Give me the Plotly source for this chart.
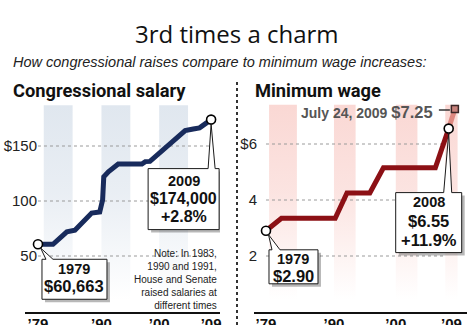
import plotly.graph_objects as go

W, H = 474, 325

# ---- data -------------------------------------------------------------
# Congressional salary (dollars), breakpoints of the plotted line
SAL_YEARS = [1979.0, 1981.6, 1984.0, 1985.4, 1988.3, 1989.7, 1990.2, 1990.4,
             1991.2, 1992.9, 1997.0, 1997.6, 1998.4, 2004.5, 2005.9, 2007.0, 2009.0]
SAL_VALUES = [60663, 60663, 72000, 73500, 89000, 90000, 101000, 122000,
              126600, 133600, 133600, 135800, 136000, 164000, 165500, 166500, 174000]
SAL_CHANGE = "+2.8%"

# Federal minimum wage (dollars per hour)
MW_YEARS = [1979.0, 1981.5, 1990.2, 1992.1, 1995.8, 1998.0, 2006.4, 2008.56]
MW_VALUES = [2.90, 3.35, 3.35, 4.25, 4.25, 5.15, 5.15, 6.55]
MW_CHANGE = "+11.9%"
MW_NEXT_YEAR = 2009 + 204 / 365      # July 24, 2009
MW_NEXT_VALUE = 7.25

X_TICKS = [1979, 1990, 2000, 2009]
X_TICKTEXT = ["\u201979", "\u201990", "\u201900", "\u201909"]
SAL_TICKS = [50000, 100000, 150000]
SAL_TICKTEXT = ["50", "100", "$150"]
MW_TICKS = [2, 4, 6]
MW_TICKTEXT = ["2", "4", "$6"]

SAL_STRIPES = [(1980, 1985), (1990, 1995), (2000, 2005)]
MW_STRIPES = [(1979.5, 1984), (1990, 1993.5), (2000, 2003.5), (2008, 2010)]

NOTE_LINES = ["Note: In 1983,", "1990 and 1991,", "House and Senate",
              "raised salaries at", "different times"]

# ---- styling ----------------------------------------------------------
NAVY = "#182b5c"
MAROON = "#8c1015"
SANS = "Liberation Sans, Arial, sans-serif"
HEAD = "Roboto, Liberation Sans, sans-serif"


def py(p):
    """pixel row -> paper y"""
    return 1 - p / H


fig = go.Figure()

# faded background columns
def add_stripes(stripes, y_lo, y_hi, rgb, xa, ya):
    for x0, x1 in stripes:
        fig.add_trace(go.Scatter(
            x=[x0, x1, x1, x0, x0], y=[y_lo, y_lo, y_hi, y_hi, y_lo],
            xaxis=xa, yaxis=ya, mode="none", fill="toself",
            fillgradient=dict(type="vertical",
                              colorscale=[[0, f"rgba({rgb},0)"], [0.55, f"rgba({rgb},0.7)"],
                                          [1, f"rgba({rgb},1)"]]),
            hoverinfo="skip", showlegend=False))


add_stripes(SAL_STRIPES, 10000, 187000, "224,231,239", "x", "y")
add_stripes(MW_STRIPES, 0.45, 7.4, "250,216,212", "x2", "y2")

# dotted gridlines
for v in SAL_TICKS:
    fig.add_trace(go.Scatter(x=[1979, 2009], y=[v, v], xaxis="x", yaxis="y", mode="lines",
                             line=dict(color="#9a9a9a", width=1, dash="dot"),
                             hoverinfo="skip", showlegend=False))
for v in MW_TICKS:
    fig.add_trace(go.Scatter(x=[1979, 2008], y=[v, v], xaxis="x2", yaxis="y2", mode="lines",
                             line=dict(color="#9a9a9a", width=1, dash="dot"),
                             hoverinfo="skip", showlegend=False))

# salary line
fig.add_trace(go.Scatter(x=SAL_YEARS, y=SAL_VALUES, xaxis="x", yaxis="y", mode="lines",
                         line=dict(color=NAVY, width=5), hoverinfo="skip", showlegend=False))
# minimum wage: pending 2009 increase, then the line itself
fig.add_trace(go.Scatter(x=[MW_YEARS[-1], MW_NEXT_YEAR], y=[MW_VALUES[-1], MW_NEXT_VALUE],
                         xaxis="x2", yaxis="y2", mode="lines",
                         line=dict(color="rgba(214,110,100,0.75)", width=5),
                         hoverinfo="skip", showlegend=False))
fig.add_trace(go.Scatter(x=MW_YEARS, y=MW_VALUES, xaxis="x2", yaxis="y2", mode="lines",
                         line=dict(color=MAROON, width=5), hoverinfo="skip", showlegend=False))
fig.add_trace(go.Scatter(x=[MW_NEXT_YEAR], y=[MW_NEXT_VALUE], xaxis="x2", yaxis="y2",
                         mode="markers",
                         marker=dict(symbol="square", size=7, color="#c8827c",
                                     line=dict(color="#3a2626", width=1.5)),
                         hoverinfo="skip", showlegend=False))

# endpoint circles
ring = dict(symbol="circle", size=9, color="white", line=dict(color="black", width=1.6))
fig.add_trace(go.Scatter(x=[SAL_YEARS[0], SAL_YEARS[-1]], y=[SAL_VALUES[0], SAL_VALUES[-1]],
                         xaxis="x", yaxis="y", mode="markers", marker=ring,
                         hoverinfo="skip", showlegend=False))
fig.add_trace(go.Scatter(x=[MW_YEARS[0], MW_YEARS[-1]], y=[MW_VALUES[0], MW_VALUES[-1]],
                         xaxis="x2", yaxis="y2", mode="markers", marker=ring,
                         hoverinfo="skip", showlegend=False))

shapes = []
annotations = []


def callout(xref, yref, x, y, box, wedge, apex, lines):
    """Speech-bubble box (pixel offsets from the data point) with text lines."""
    l, r, t, b = box
    wl, wr = wedge
    ax, ay = apex
    shapes.append(dict(type="path", xref=xref, yref=yref, xsizemode="pixel",
                       ysizemode="pixel", xanchor=x, yanchor=y,
                       path=f"M{l+3},{t-3} L{r+3},{t-3} L{r+3},{b-3} L{l+3},{b-3} Z",
                       fillcolor="rgba(0,0,0,0.28)", line=dict(width=0), layer="above"))
    shapes.append(dict(type="path", xref=xref, yref=yref, xsizemode="pixel",
                       ysizemode="pixel", xanchor=x, yanchor=y,
                       path=(f"M{l},{t} L{wl},{t} L{ax},{ay} L{wr},{t} L{r},{t} "
                             f"L{r},{b} L{l},{b} Z"),
                       fillcolor="white", line=dict(color="#1a1a1a", width=1), layer="above"))
    cx = (l + r) / 2
    for text, dy, size in lines:
        annotations.append(dict(xref=xref, yref=yref, x=x, y=y, xshift=cx, yshift=dy,
                                text=text, showarrow=False, xanchor="center",
                                yanchor="middle",
                                font=dict(family=SANS, size=size, color="#111", weight="bold")))


callout("x", "y", SAL_YEARS[0], SAL_VALUES[0], (4, 69, -15, -55), (8, 15), (2.6, -3.7),
        [(f"{int(SAL_YEARS[0])}", -25, 14.5), (f"${SAL_VALUES[0]:,}", -42, 16.5)])
callout("x", "y", SAL_YEARS[-1], SAL_VALUES[-1], (-63, 8, -49, -110), (-3, 4), (0, -4.5),
        [(f"{int(SAL_YEARS[-1])}", -61, 14.5), (f"${SAL_VALUES[-1]:,}", -78.5, 16),
         (SAL_CHANGE, -97, 16)])
callout("x2", "y2", MW_YEARS[0], MW_VALUES[0], (3, 52, -19, -53), (6, 14), (2.5, -3.8),
        [(f"{int(MW_YEARS[0])}", -28.3, 14.5), (f"${MW_VALUES[0]:.2f}", -45, 16.5)])
callout("x2", "y2", MW_YEARS[-1], MW_VALUES[-1], (-53, 13, -64, -124), (-5, 3), (0, -4.5),
        [(f"{int(MW_YEARS[-1])}", -73.7, 14.5), (f"${MW_VALUES[-1]:.2f}", -92, 16.5),
         (MW_CHANGE, -111.4, 16.5)])

# leader from the 2009 label to its marker
shapes.append(dict(type="path", xref="x2", yref="y2", xsizemode="pixel", ysizemode="pixel",
                   xanchor=MW_NEXT_YEAR, yanchor=MW_NEXT_VALUE, path="M-16,-1 L-5,-1",
                   line=dict(color="#333", width=1.5), layer="above"))
annotations.append(dict(xref="x2", yref="y2", x=MW_NEXT_YEAR, y=MW_NEXT_VALUE,
                        xshift=-20, yshift=-3, xanchor="right", yanchor="middle",
                        showarrow=False,
                        text=("July 24, 2009 "
                              f"<span style='font-size:16.5px'>${MW_NEXT_VALUE:.2f}</span>"),
                        font=dict(family=SANS, size=14, color="#555", weight="bold")))

# panel divider
shapes.append(dict(type="line", xref="paper", yref="paper", x0=237 / W, x1=237 / W,
                   y0=py(82), y1=0, line=dict(color="#333", width=2, dash="dot")))

# headings
annotations += [
    dict(xref="paper", yref="paper", x=0.5, y=py(33), text="3rd times a charm",
         showarrow=False, xanchor="center", yanchor="middle",
         font=dict(family="Open Sans, sans-serif", size=24, color="#111")),
    dict(xref="paper", yref="paper", x=11 / W, y=py(62),
         text="<i>How congressional raises compare to minimum wage increases:</i>",
         showarrow=False, xanchor="left", yanchor="middle",
         font=dict(family=SANS, size=14.5, color="#222")),
    dict(xref="paper", yref="paper", x=11 / W, y=py(90), text="Congressional salary",
         showarrow=False, xanchor="left", yanchor="middle",
         font=dict(family=HEAD, size=18.3, color="#111", weight="bold")),
    dict(xref="paper", yref="paper", x=253 / W, y=py(90), text="Minimum wage",
         showarrow=False, xanchor="left", yanchor="middle",
         font=dict(family=HEAD, size=18.3, color="#111", weight="bold")),
    dict(xref="paper", yref="paper", x=219 / W, y=py(279),
         text="<br>".join(NOTE_LINES), align="right",
         showarrow=False, xanchor="right", yanchor="middle",
         font=dict(family=SANS, size=10, color="#222")),
]

x_common = dict(showgrid=False, zeroline=False, showline=True, linecolor="#111",
                linewidth=2, ticks="", tickvals=X_TICKS, ticktext=X_TICKTEXT,
                tickfont=dict(family=SANS, size=15, color="#111", weight="bold"),
                ticklabelstandoff=-3, fixedrange=True, automargin=False)
y_common = dict(showgrid=False, zeroline=False, showline=False, ticks="",
                tickfont=dict(family=SANS, size=15, color="#222"), fixedrange=True,
                domain=[13 / H, 225 / H], anchor="free", automargin=False)

fig.update_layout(
    width=W, height=H, margin=dict(l=0, r=0, t=0, b=0, autoexpand=False),
    paper_bgcolor="white", plot_bgcolor="rgba(0,0,0,0)", showlegend=False,
    xaxis=dict(domain=[25 / W, 220 / W], range=[1976.75, 2010.54], anchor="y", **x_common),
    xaxis2=dict(domain=[254 / W, 467 / W], range=[1977.06, 2011.52], anchor="y2", **x_common),
    yaxis=dict(range=[-909, 191818], tickvals=SAL_TICKS, ticktext=SAL_TICKTEXT,
               position=37 / W, **y_common),
    yaxis2=dict(range=[0, 7.5714], tickvals=MW_TICKS, ticktext=MW_TICKTEXT,
                position=257 / W, **y_common),
    shapes=shapes, annotations=annotations,
)

fig.write_html("out.html")
